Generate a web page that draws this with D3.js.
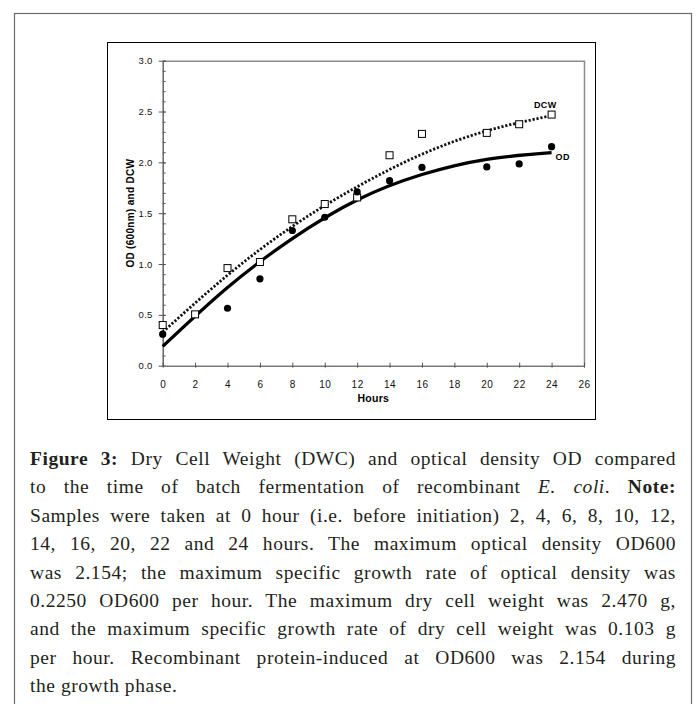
<!DOCTYPE html>
<html>
<head>
<meta charset="utf-8">
<script src="https://cdn.jsdelivr.net/npm/d3@7"></script>
<style>
  body { margin: 0; background: #fff; }
  #wrap { position: relative; width: 696px; height: 704px; overflow: hidden; }
  #chart { position: absolute; left: 0; top: 0; }
  #caption { position: absolute; left: 30px; top: 445px; width: 646px;
             font-family: "Liberation Serif", "DejaVu Serif", serif; font-size: 19.5px;
             letter-spacing: 0.55px; color: #231f20; line-height: 28.4px; }
  #caption div { text-align: justify; text-align-last: justify; white-space: nowrap; }
  #caption div.last { text-align-last: left; }
</style>
</head>
<body>
<div id="wrap">
  <svg id="chart" width="696" height="704"></svg>
  <div id="caption"></div>
</div>
<script>
//hours at which samples were taken
var hoursDCW = [0, 2, 4, 6, 8, 10, 12, 14, 16, 20, 22, 24],
    valuesDCW = [0.40, 0.505, 0.96, 1.02, 1.44, 1.59, 1.655, 2.07, 2.28, 2.29, 2.375, 2.47];

var hoursOD = [0, 4, 6, 8, 10, 12, 14, 16, 20, 22, 24],
    valuesOD = [0.31, 0.565, 0.855, 1.33, 1.46, 1.71, 1.82, 1.95, 1.955, 1.985, 2.154];

//trendlines
var trendHours = [0, 4, 8, 12, 16, 20, 24],
    trendDCW = [0.33, 0.89, 1.37, 1.76, 2.08, 2.31, 2.46],
    trendOD = [0.19, 0.77, 1.25, 1.63, 1.88, 2.03, 2.095];

var xTicks = d3.range(0, 27, 2),
    yTicks = [0, 0.5, 1.0, 1.5, 2.0, 2.5, 3.0],
    yMinor = d3.range(0, 31).map(function(d) { return d / 10; });

var captionLines = [
  "<b>Figure 3:</b> Dry Cell Weight (DWC) and optical density OD compared",
  "to the time of batch fermentation of recombinant <i>E. coli</i>. <b>Note:</b>",
  "Samples were taken at 0 hour (i.e. before initiation) 2, 4, 6, 8, 10, 12,",
  "14, 16, 20, 22 and 24 hours. The maximum optical density OD600",
  "was 2.154; the maximum specific growth rate of optical density was",
  "0.2250 OD600 per hour. The maximum dry cell weight was 2.470 g,",
  "and the maximum specific growth rate of dry cell weight was 0.103 g",
  "per hour. Recombinant protein-induced at OD600 was 2.154 during",
  "the growth phase."
];

var svg = d3.select("#chart");

// outer figure frame and inner chart frame
svg.append("rect").attr("x", 14.5).attr("y", 13.5).attr("width", 677).attr("height", 720)
  .attr("fill", "none").attr("stroke", "#6b6b6b").attr("stroke-width", 1.2);
svg.append("rect").attr("x", 107.5).attr("y", 42.5).attr("width", 488).attr("height", 377)
  .attr("fill", "none").attr("stroke", "#000").attr("stroke-width", 1);

var plot = { left: 162.7, right: 584, top: 60.7, bottom: 365.7 };

var x = d3.scaleLinear().domain([0, 26]).range([plot.left, plot.right]);
var y = d3.scaleLinear().domain([0, 3]).range([plot.bottom, plot.top]);

// plot area border (top and right)
svg.append("path")
  .attr("d", "M" + plot.left + "," + (plot.top + 0.5) + "H" + (plot.right + 0.5) + "V" + plot.bottom)
  .attr("fill", "none").attr("stroke", "#8a8a8a").attr("stroke-width", 1.5);

// minor y ticks, inside
var minorAxis = svg.append("g")
  .attr("transform", "translate(" + plot.left + ",0)")
  .call(d3.axisRight(y).tickValues(yMinor).tickSize(3).tickFormat(""));
minorAxis.select(".domain").remove();
minorAxis.selectAll("line").attr("stroke", "#555");

// y axis
var yAxis = svg.append("g")
  .attr("transform", "translate(" + plot.left + ",0)")
  .call(d3.axisLeft(y).tickValues(yTicks).tickFormat(d3.format(".1f")).tickSizeOuter(0).tickPadding(4));
yAxis.select(".domain").attr("stroke", "#666").attr("stroke-width", 1.5);
yAxis.selectAll("line").attr("x1", 3).attr("x2", -4).attr("stroke", "#555");
yAxis.selectAll("text")
  .attr("font-family", "Liberation Sans, Arial, sans-serif").attr("font-size", "9.5px")
  .attr("letter-spacing", "0.3px").attr("fill", "#111");

// x axis
var xAxis = svg.append("g")
  .attr("transform", "translate(0," + plot.bottom + ")")
  .call(d3.axisBottom(x).tickValues(xTicks).tickSizeOuter(0).tickPadding(9));
xAxis.select(".domain").attr("stroke", "#7a7a7a").attr("stroke-width", 1.5);
xAxis.selectAll("line").attr("y1", -3).attr("y2", 2).attr("stroke", "#555");
xAxis.selectAll("text")
  .attr("font-family", "Liberation Sans, Arial, sans-serif").attr("font-size", "10px")
  .attr("letter-spacing", "0.5px").attr("fill", "#111");

// axis titles
svg.append("text")
  .attr("x", (plot.left + plot.right) / 2).attr("y", 402)
  .attr("text-anchor", "middle")
  .attr("font-family", "Liberation Sans, Arial, sans-serif").attr("font-size", "10.5px")
  .attr("font-weight", "bold").attr("letter-spacing", "0.3px")
  .text("Hours");

svg.append("text")
  .attr("transform", "translate(133.5," + ((plot.top + plot.bottom) / 2) + ") rotate(-90)")
  .attr("text-anchor", "middle")
  .attr("font-family", "Liberation Sans, Arial, sans-serif").attr("font-size", "10px")
  .attr("font-weight", "bold").attr("letter-spacing", "0.3px")
  .text("OD (600nm) and DCW");

// trendlines
var trendLine = d3.line()
  .x(function(d) { return x(d[0]); })
  .y(function(d) { return y(d[1]); })
  .curve(d3.curveNatural);

svg.append("path")
  .datum(d3.zip(trendHours, trendDCW))
  .attr("d", trendLine)
  .attr("fill", "none").attr("stroke", "#111").attr("stroke-width", 2.8)
  .attr("stroke-dasharray", "2.2,1.8");

svg.append("path")
  .datum(d3.zip(trendHours, trendOD))
  .attr("d", trendLine)
  .attr("fill", "none").attr("stroke", "#000").attr("stroke-width", 3.2);

// DCW open squares
svg.selectAll(".dcw")
  .data(d3.zip(hoursDCW, valuesDCW))
  .enter().append("rect")
  .attr("class", "dcw")
  .attr("x", function(d) { return x(d[0]) - 3.5; })
  .attr("y", function(d) { return y(d[1]) - 3.5; })
  .attr("width", 7).attr("height", 7)
  .attr("fill", "#fff").attr("stroke", "#000").attr("stroke-width", 1);

// OD filled circles
svg.selectAll(".od")
  .data(d3.zip(hoursOD, valuesOD))
  .enter().append("circle")
  .attr("class", "od")
  .attr("cx", function(d) { return x(d[0]); })
  .attr("cy", function(d) { return y(d[1]); })
  .attr("r", 3.6)
  .attr("fill", "#000");

// series labels
var lastDCW = valuesDCW[valuesDCW.length - 1],
    lastOD = trendOD[trendOD.length - 1];
svg.append("text")
  .attr("x", x(24) + 5).attr("y", y(lastDCW) - 7)
  .attr("text-anchor", "end")
  .attr("font-family", "Liberation Sans, Arial, sans-serif").attr("font-size", "9px")
  .attr("font-weight", "bold").attr("letter-spacing", "0.4px")
  .text("DCW");
svg.append("text")
  .attr("x", x(24) + 4).attr("y", y(lastOD) + 7)
  .attr("font-family", "Liberation Sans, Arial, sans-serif").attr("font-size", "9px")
  .attr("font-weight", "bold").attr("letter-spacing", "0.4px")
  .text("OD");

// caption
d3.select("#caption").selectAll("div")
  .data(captionLines)
  .enter().append("div")
  .attr("class", function(d, i) { return i === captionLines.length - 1 ? "last" : null; })
  .html(function(d) { return d; });
</script>
</body>
</html>
